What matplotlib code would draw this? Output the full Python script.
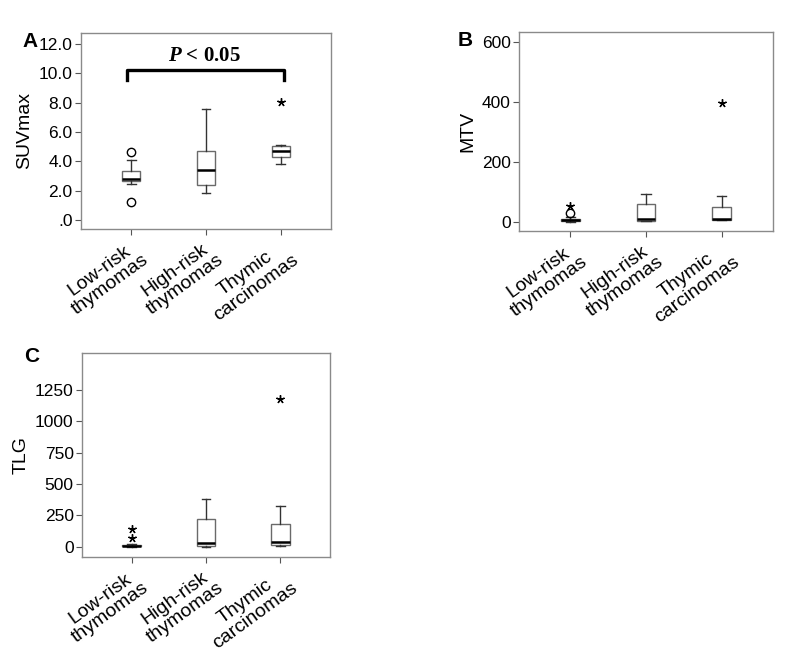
import matplotlib
matplotlib.use("Agg")
import matplotlib.pyplot as plt

plt.rcParams['font.family'] = ['Liberation Sans', 'DejaVu Sans']
plt.rcParams['mathtext.fontset'] = 'custom'
plt.rcParams['mathtext.it'] = 'Liberation Serif:italic:bold'
plt.rcParams['mathtext.rm'] = 'Liberation Serif:bold'

groups = ['Low-risk\nthymomas', 'High-risk\nthymomas', 'Thymic\ncarcinomas']

# box stats: whislo, q1, med, q3, whishi
suv_stats = [[2.43, 2.64, 2.77, 3.36, 4.09],
             [1.84, 2.39, 3.43, 4.73, 7.57],
             [3.80, 4.30, 4.70, 5.07, 5.11]]
suv_circles = [[4.64, 1.25], [], []]
suv_stars = [[], [], [8.02]]

mtv_stats = [[0, 2, 5, 10, 15],
             [2, 2, 10, 58, 91],
             [4, 4, 10, 47, 84]]
mtv_circles = [[28], [], []]
mtv_stars = [[52], [], [395]]

tlg_stats = [[0, 3, 8, 15, 22],
             [0, 2, 32, 218, 380],
             [8, 10, 35, 178, 324]]
tlg_circles = [[], [], []]
tlg_stars = [[69, 139], [], [1178]]

spine_col = '#8a8a8a'
box_col = '#6a6a6a'


def boxpanel(ax, stats, circles, stars, ylab, yticks, ylim, ticklabels):
    bx = []
    for s in stats:
        bx.append(dict(whislo=s[0], q1=s[1], med=s[2], q3=s[3], whishi=s[4], fliers=[]))
    ax.bxp(bx, positions=[1, 2, 3], widths=0.25, showfliers=False, patch_artist=True,
           boxprops=dict(facecolor='white', edgecolor=box_col, linewidth=1.0),
           medianprops=dict(color='black', linewidth=1.8),
           whiskerprops=dict(color='#333333', linewidth=1.0),
           capprops=dict(color='#333333', linewidth=1.0),
           capwidths=0.12)
    for i in range(3):
        if circles[i]:
            ax.plot([i + 1] * len(circles[i]), circles[i], 'o', mfc='none', mec='black', ms=6, mew=1.0)
        if stars[i]:
            ax.plot([i + 1] * len(stars[i]), stars[i], marker=(5, 2, 0), ls='none',
                    color='black', ms=6, mew=1.0)
    ax.set_xlim(0.33, 3.67)
    ax.set_ylim(*ylim)
    ax.set_yticks(yticks)
    ax.set_yticklabels(ticklabels, fontsize=12.5)
    ax.set_xticks([1, 2, 3])
    ax.set_xticklabels(groups, rotation=36, ha='right', rotation_mode='anchor',
                       fontsize=14, multialignment='center', linespacing=1.05)
    ax.set_ylabel(ylab, fontsize=14, labelpad=4)
    for sp in ax.spines.values():
        sp.set_color(spine_col)
        sp.set_linewidth(1.0)
    ax.tick_params(axis='both', colors='#555555', length=4, width=0.8, labelcolor='black', pad=2)


fig = plt.figure(figsize=(8, 6.67), dpi=100)
axA = fig.add_axes([0.101, 0.657, 0.313, 0.2935])
axB = fig.add_axes([0.649, 0.654, 0.317, 0.298])
axC = fig.add_axes([0.1025, 0.165, 0.31, 0.306])

boxpanel(axA, suv_stats, suv_circles, suv_stars, 'SUVmax',
         [0, 2, 4, 6, 8, 10, 12], (-0.6, 12.75),
         ['.0', '2.0', '4.0', '6.0', '8.0', '10.0', '12.0'])
boxpanel(axB, mtv_stats, mtv_circles, mtv_stars, 'MTV',
         [0, 200, 400, 600], (-31, 633), ['0', '200', '400', '600'])
boxpanel(axC, tlg_stats, tlg_circles, tlg_stars, 'TLG',
         [0, 250, 500, 750, 1000, 1250], (-82, 1545),
         ['0', '250', '500', '750', '1000', '1250'])

fig.text(0.0375, 0.9385, 'A', fontsize=15, fontweight='bold', ha='center', va='center')
fig.text(0.581, 0.940, 'B', fontsize=15, fontweight='bold', ha='center', va='center')
fig.text(0.040, 0.465, 'C', fontsize=15, fontweight='bold', ha='center', va='center')

# significance bracket
axA.plot([0.95, 0.95, 3.04, 3.04], [9.55, 10.2, 10.2, 9.55], color='black', linewidth=2.4)
axA.text(1.98, 11.2, '$P$ < 0.05', fontsize=15, fontweight='bold',
         family='Liberation Serif', ha='center', va='center')

fig.savefig('out.png', dpi=100)
